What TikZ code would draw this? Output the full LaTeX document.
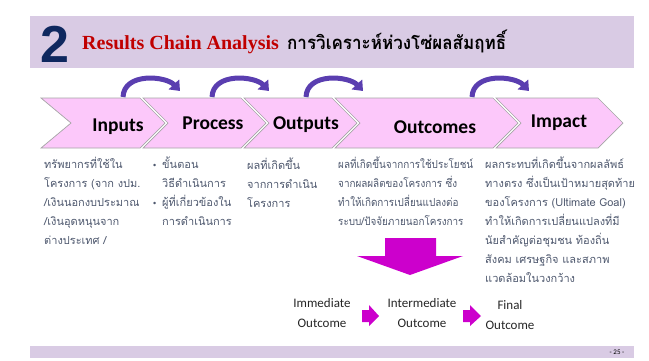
\documentclass[tikz,border=0pt]{standalone}
\usepackage{fontspec}
\usetikzlibrary{arrows.meta}
\newfontfamily\thaifont[Script=Thai]{Loma}
\newfontfamily\thainarrow[Script=Thai,FakeStretch=0.9]{Loma}
\newfontfamily\thaititle[Script=Thai,FakeStretch=0.92]{Loma}
\newfontfamily\calfont{Carlito}
\newfontfamily\bulfont{Liberation Sans}
\newfontfamily\headsans{Liberation Sans}
\newfontfamily\slabfont{Liberation Serif}
\definecolor{band}{RGB}{217,203,228}
\definecolor{chev}{RGB}{252,200,250}
\definecolor{chevline}{RGB}{165,165,165}
\definecolor{arcc}{RGB}{90,62,176}
\definecolor{mag}{RGB}{204,0,204}
\definecolor{thaitxt}{RGB}{78,88,110}
\definecolor{navy}{RGB}{15,40,95}
\definecolor{titlered}{RGB}{192,0,0}
\tikzset{
  chevron/.style={fill=chev, draw=chevline, line width=0.7pt},
  chevlab/.style={inner sep=0, font=\calfont\bfseries\fontsize{19.5}{19.5}\selectfont, text=black},
  thaicol/.style={anchor=north west, align=left, inner sep=0, font=\thaifont\fontsize{11}{19}\selectfont, text=thaitxt},
  arcarrow/.style={draw=arcc, line width=5pt, -{Triangle[width=14pt,length=9pt]}},
  botlab/.style={align=center, inner sep=0, font=\calfont\fontsize{13}{20}\selectfont, text=black!85},
  blockarrow/.style={fill=mag, draw=none}
}
\newcommand{\bul}{\makebox[9pt][l]{\bulfont\fontsize{9}{9}\selectfont\textbullet}}
\begin{document}
\begin{tikzpicture}[x=1pt,y=-1pt]
\useasboundingbox (0,0) rectangle (649,360);
% header band
\fill[band] (30,16) rectangle (634,68);
\node[inner sep=0, anchor=base, font=\headsans\bfseries\fontsize{52}{52}\selectfont, text=navy] (num) at (55,62) {2};
\node[inner sep=0, anchor=base west, font=\slabfont\bfseries\fontsize{20}{20}\selectfont, text=titlered] (title) at (82,49) {Results Chain Analysis};
\node[inner sep=0, anchor=base west, font=\thaititle\bfseries\fontsize{18.5}{18.5}\selectfont, text=black] (thtitle) at (287,49) {การวิเคราะห์ห่วงโซ่ผลสัมฤทธิ์};
% chevrons
\path[chevron] (41,98) -- (140,98) -- (165,123) -- (140,148) -- (41,148) -- (71,123) -- cycle;
\path[chevron] (143,98) -- (241,98) -- (266,123) -- (241,148) -- (143,148) -- (168,123) -- cycle;
\path[chevron] (244,98) -- (332,98) -- (357,123) -- (332,148) -- (244,148) -- (269,123) -- cycle;
\path[chevron] (335,98) -- (493,98) -- (518,123) -- (493,148) -- (335,148) -- (360,123) -- cycle;
\path[chevron] (496,98) -- (598,98) -- (623,123) -- (598,148) -- (496,148) -- (521,123) -- cycle;
\node[chevlab] (inputs) at (118,127) {Inputs};
\node[chevlab] (process) at (213,123) {Process};
\node[chevlab] (outputs) at (306,125) {Outputs};
\node[chevlab] (outcomes) at (435,127) {Outcomes};
\node[chevlab] (impact) at (559,123) {Impact};
% curved arrows
\foreach \s/\n in {123/1,212/2,306/3,472/4}{
  \coordinate (a\n s) at (\s,97);
  \coordinate (a\n e) at (\s+57,91);
  \draw[arcarrow] (a\n s) .. controls +(1,-25) and +(-14,-15) .. (a\n e);
}
% thai columns
\node[thaicol] (c1) at (44,157) {ทรัพยากรที่ใช้ใน\\โครงการ (จาก งปม.\\/เงินนอกงบประมาณ\\/เงินอุดหนุนจาก\\ต่างประเทศ /};
\node[thaicol] (c2) at (153,157) {\bul ขั้นตอน\\\hspace*{9pt}วิธีดำเนินการ\\\bul ผู้ที่เกี่ยวข้องใน\\\hspace*{9pt}การดำเนินการ};
\node[thaicol] (c3) at (247,158) {ผลที่เกิดขึ้น\\จากการดำเนิน\\โครงการ};
\node[thaicol, font=\thainarrow\fontsize{11}{19}\selectfont] (c4) at (338,157) {ผลที่เกิดขึ้นจากการใช้ประโยชน์\\จากผลผลิตของโครงการ ซึ่ง\\ทำให้เกิดการเปลี่ยนแปลงต่อ\\ระบบ/ปัจจัยภายนอกโครงการ};
\node[thaicol] (c5) at (485,157) {ผลกระทบที่เกิดขึ้นจากผลลัพธ์\\ทางตรง ซึ่งเป็นเป้าหมายสุดท้าย\\ของโครงการ (Ultimate Goal)\\ทำให้เกิดการเปลี่ยนแปลงที่มี\\นัยสำคัญต่อชุมชน ท้องถิ่น\\สังคม เศรษฐกิจ และสภาพ\\แวดล้อมในวงกว้าง};
% big down arrow
\path[blockarrow] (385,238) -- (436,238) -- (436,256) -- (463,256) -- (410,275) -- (357,256) -- (385,256) -- cycle;
% bottom labels
\node[botlab] (imm) at (322,313) {Immediate\\Outcome};
\node[botlab] (inter) at (422,313) {Intermediate\\Outcome};
\node[botlab] (final) at (510,315) {Final\\Outcome};
\path[blockarrow] (362,310) -- (369,310) -- (369,305) -- (379,316) -- (369,326) -- (369,322) -- (362,322) -- cycle;
\path[blockarrow] (463,310) -- (470,310) -- (470,305) -- (481,316) -- (470,326) -- (470,322) -- (463,322) -- cycle;
% footer
\fill[band] (30,346) rectangle (634,358);
\node[inner sep=0, font=\calfont\fontsize{7}{7}\selectfont] (page) at (617,352) {- 25 -};
\end{tikzpicture}
\end{document}
